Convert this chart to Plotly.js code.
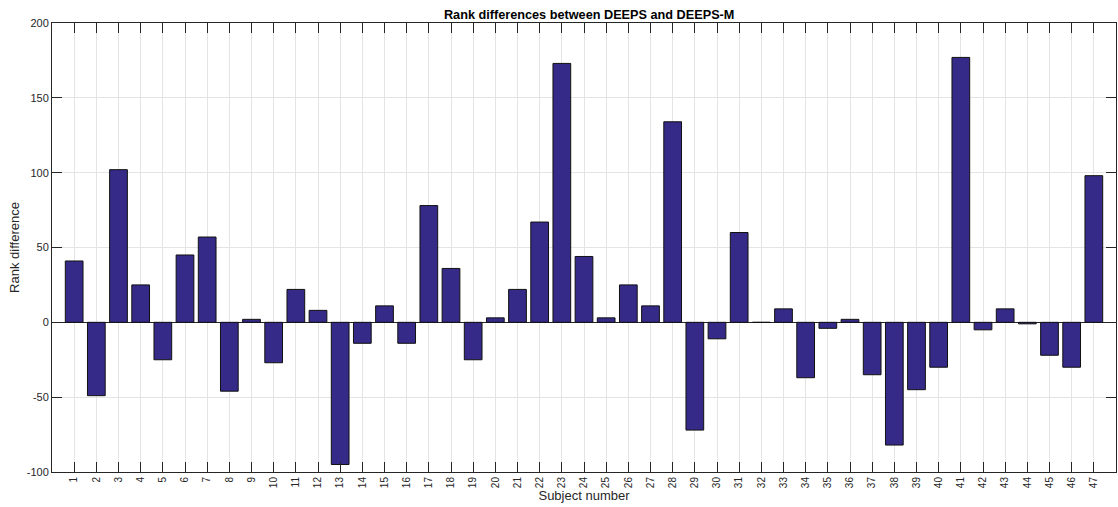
<!DOCTYPE html>
<html>
<head>
<meta charset="utf-8">
<script src="https://cdn.plot.ly/plotly-3.0.1.min.js"></script>
<style>html,body{margin:0;padding:0;background:#fff;}#chart{width:1118px;height:507px;}</style>
</head>
<body>
<div id="chart"></div>
<script>
const subjects = [1,2,3,4,5,6,7,8,9,10,11,12,13,14,15,16,17,18,19,20,21,22,23,24,25,26,27,28,29,30,31,32,33,34,35,36,37,38,39,40,41,42,43,44,45,46,47];
const rankDiff = [41,-49,102,25,-25,45,57,-46,2,-27,22,8,-95,-14,11,-14,78,36,-25,3,22,67,173,44,3,25,11,134,-72,-11,60,0,9,-37,-4,2,-35,-82,-45,-30,177,-5,9,-1,-22,-30,98];
const yTicks = [-100,-50,0,50,100,150,200];

const axisColor = '#262626';
const gridColor = '#e4e4e4';
const fontFam = '"Liberation Sans", Arial, Helvetica, sans-serif';

const trace = {
  type: 'bar',
  x: subjects,
  y: rankDiff,
  width: 0.8,
  marker: {color: '#352a87', line: {color: '#111111', width: 1}},
  hoverinfo: 'x+y'
};

const layout = {
  width: 1118, height: 507,
  margin: {l: 52, r: 2, t: 23, b: 35, pad: 0},
  paper_bgcolor: '#ffffff', plot_bgcolor: '#ffffff',
  showlegend: false,
  bargap: 0,
  title: {text: '<b>Rank differences between DEEPS and DEEPS-M</b>', x: 0.527, xanchor: 'center', y: 0.972, yanchor: 'middle',
          font: {family: fontFam, size: 12.7, color: '#000000'}},
  xaxis: {
    range: [0, 48], tickmode: 'array', tickvals: subjects, ticktext: subjects.map(String),
    tickangle: -90, ticks: 'inside', ticklen: 10, tickcolor: axisColor, tickwidth: 1,
    showline: true, linecolor: axisColor, linewidth: 1, mirror: 'ticks',
    showgrid: true, gridcolor: gridColor, gridwidth: 1, zeroline: false,
    tickfont: {family: fontFam, size: 10, color: axisColor},
    title: {text: 'Subject number', standoff: 2, font: {family: fontFam, size: 13, color: axisColor}}
  },
  yaxis: {
    range: [-100, 200], tickmode: 'array', tickvals: yTicks, ticktext: yTicks.map(String),
    ticks: 'inside', ticklen: 10, tickcolor: axisColor, tickwidth: 1,
    showline: true, linecolor: axisColor, linewidth: 1, mirror: 'ticks',
    showgrid: true, gridcolor: gridColor, gridwidth: 1,
    zeroline: true, zerolinecolor: axisColor, zerolinewidth: 1,
    tickfont: {family: fontFam, size: 11, color: axisColor},
    title: {text: 'Rank difference', standoff: 4, font: {family: fontFam, size: 13, color: axisColor}}
  }
};

Plotly.newPlot('chart', [trace], layout, {displayModeBar: false, staticPlot: true});
</script>
</body>
</html>
